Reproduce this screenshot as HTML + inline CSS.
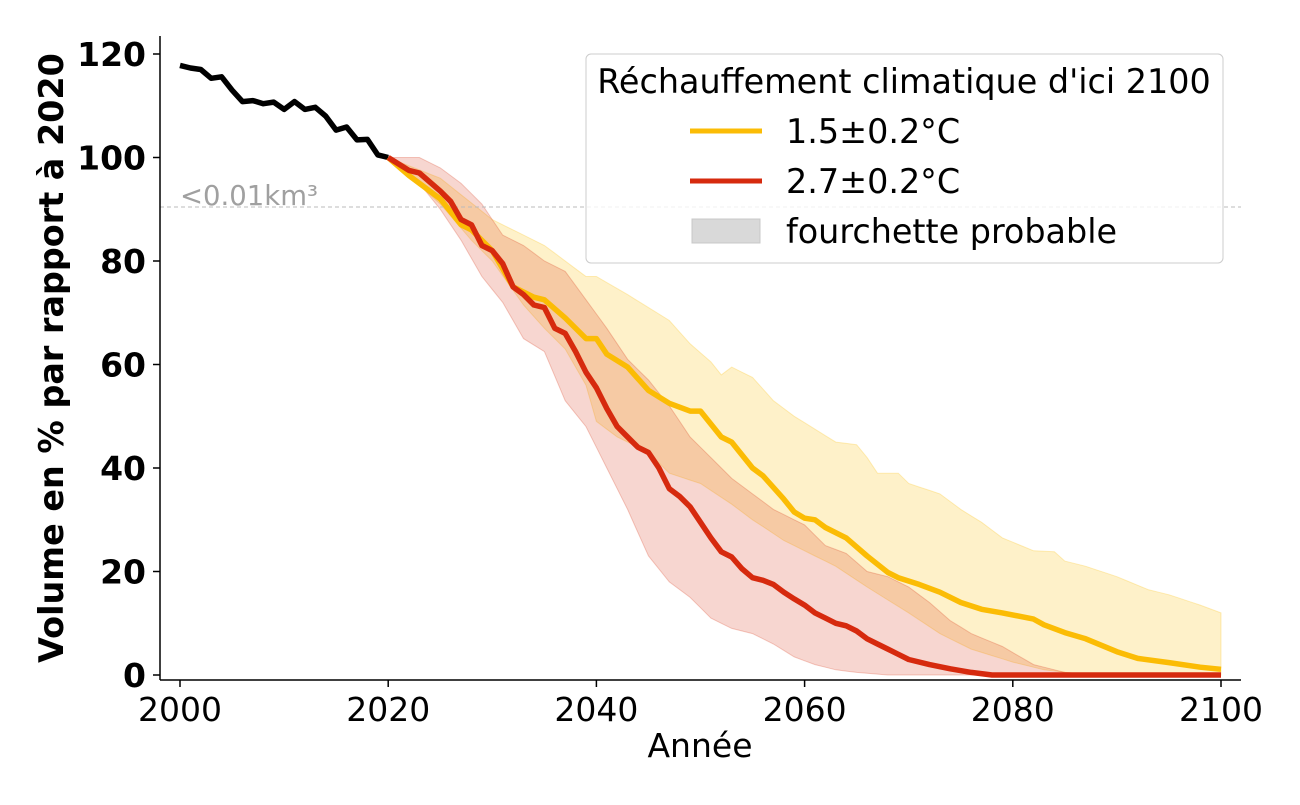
<!DOCTYPE html>
<html><head><meta charset="utf-8"><style>
body{margin:0;background:#fff}
svg text{font-family:"DejaVu Sans","Liberation Sans",sans-serif}
</style></head><body>
<svg id="s" width="1300" height="800" xmlns="http://www.w3.org/2000/svg">
<g id="bands"></g>
<line x1="160" y1="207" x2="1241" y2="207" stroke="#bbb" stroke-width="1" stroke-dasharray="4,3"/>
<text x="180" y="205" font-size="27.5" fill="#a0a0a0">&lt;0.01km³</text>
<g id="lines"></g>
<line x1="160" y1="36" x2="160" y2="680" stroke="#000" stroke-width="1.5"/>
<line x1="160" y1="680" x2="1241" y2="680" stroke="#000" stroke-width="1.5"/>
<g id="ticks" font-size="33"></g>
<text x="700" y="757" font-size="33" text-anchor="middle">Année</text>
<text transform="translate(63,358) rotate(-90)" font-size="33.4" font-weight="bold" text-anchor="middle">Volume en % par rapport à 2020</text>
<rect x="586" y="54" width="637" height="209" rx="5" fill="#fff" fill-opacity="0.8" stroke="#ccc"/>
<text x="904" y="93" font-size="33.4" text-anchor="middle">Réchauffement climatique d'ici 2100</text>
<line x1="690" y1="131" x2="762" y2="131" stroke="#fbbc05" stroke-width="5"/>
<text x="786" y="143" font-size="33.4">1.5±0.2°C</text>
<line x1="690" y1="181" x2="762" y2="181" stroke="#d62a0e" stroke-width="5"/>
<text x="786" y="193" font-size="33.4">2.7±0.2°C</text>
<rect x="692" y="219" width="68" height="24" fill="#d9d9d9" stroke="#c8c8c8"/>
<text x="786" y="243" font-size="33.4">fourchette probable</text>
</svg>
<script>
const X=y=>180+(y-2000)*10.41, Y=v=>675-v*5.175;
function interp(pts){const o=[];for(let i=0;i<pts.length-1;i++){const[a,va]=pts[i],[b,vb]=pts[i+1];for(let y=a;y<b;y++)o.push([y,va+(vb-va)*(y-a)/(b-a)]);}o.push(pts[pts.length-1]);return o;}
function pl(pts){return pts.map((p,i)=>(i?'L':'M')+X(p[0]).toFixed(1)+','+Y(p[1]).toFixed(1)).join('');}
const yl=[[2020,100],[2022,96.5],[2025,92],[2027,87],[2028,86],[2030,82],[2032,75],[2034,73],[2035,72.5],[2037,69],[2039,65],[2040,65],[2041,62],[2043,59.5],[2045,55],[2047,52.5],[2049,51],[2050,51],[2052,46],[2053,45],[2055,40],[2056,38.5],[2058,34],[2059,31.5],[2060,30.3],[2061,30],[2062,28.5],[2064,26.5],[2066,23],[2068,19.8],[2069,18.8],[2071,17.5],[2073,16],[2075,14],[2077,12.7],[2079,12],[2082,10.8],[2083,9.7],[2085,8.2],[2087,7],[2090,4.5],[2092,3.2],[2095,2.4],[2098,1.5],[2100,1.1]];
const rd=[[2020,100],[2022,97.5],[2023,97],[2025,93.5],[2026,91.5],[2027,88],[2028,87],[2029,83],[2030,82],[2031,79.5],[2032,75],[2033,73.5],[2034,71.5],[2035,71],[2036,67],[2037,66],[2038,62.5],[2039,58.5],[2040,55.5],[2041,51.5],[2042,48],[2043,46],[2044,44],[2045,43],[2046,40],[2047,36],[2048,34.5],[2049,32.5],[2050,29.5],[2051,26.5],[2052,23.8],[2053,22.8],[2054,20.5],[2055,18.8],[2056,18.3],[2057,17.5],[2058,16],[2059,14.7],[2060,13.5],[2061,12],[2062,11],[2063,10],[2064,9.5],[2065,8.5],[2066,7],[2067,6],[2068,5],[2069,4],[2070,3],[2072,2],[2074,1.2],[2076,0.5],[2078,0],[2100,0]];
const yu=[[2020,100],[2025,96],[2030,88],[2032,86],[2035,83],[2037,80],[2039,77],[2040,77],[2043,73.5],[2045,71],[2047,68.5],[2049,64],[2051,60.5],[2052,58],[2053,59.5],[2055,57.5],[2057,53],[2059,50],[2061,47.5],[2063,45],[2065,44.5],[2066,42],[2067,39],[2069,39],[2070,37],[2073,35],[2075,32],[2077,29.5],[2079,26.5],[2082,24],[2084,23.8],[2085,22],[2087,21],[2090,19],[2093,16.5],[2095,15.5],[2098,13.5],[2100,12]];
const ylo=[[2020,100],[2025,91],[2028,84],[2030,80],[2033,71.5],[2035,67],[2037,63],[2039,56],[2040,49],[2042,46],[2045,43],[2047,39],[2050,37],[2053,33],[2055,30],[2058,26],[2060,24],[2063,21],[2066,17],[2070,12],[2073,8],[2076,5],[2080,2.5],[2083,1],[2086,0.3],[2090,0],[2100,0]];
const ru=[[2020,100],[2023,100],[2025,98],[2027,95],[2029,91],[2031,85],[2033,83],[2035,80],[2037,78],[2039,72.5],[2041,67],[2043,61],[2045,57],[2047,52],[2049,46],[2051,42],[2053,38],[2055,35],[2057,32],[2060,29],[2062,25],[2064,23.5],[2066,20],[2068,19],[2070,17],[2072,14],[2074,10.5],[2076,8],[2079,5.5],[2082,2],[2085,0.5],[2088,0],[2100,0]];
const rlo=[[2020,100],[2023,95],[2025,90],[2027,84],[2029,77],[2031,72],[2033,65],[2035,62.5],[2037,53],[2039,48],[2041,40],[2043,32],[2045,23],[2047,18],[2049,15],[2051,11],[2053,9],[2055,8],[2057,6],[2059,3.5],[2061,2],[2063,1],[2065,0.5],[2068,0],[2100,0]];
const bk=[[2000,117.8],[2001,117.3],[2002,117],[2003,115.3],[2004,115.6],[2005,113],[2006,110.8],[2007,111],[2008,110.4],[2009,110.7],[2010,109.3],[2011,110.8],[2012,109.3],[2013,109.7],[2014,108],[2015,105.3],[2016,105.9],[2017,103.4],[2018,103.5],[2019,100.5],[2020,100]];
function band(u,l,fill,stroke){return `<path d="${pl(interp(u))}${pl(interp(l).reverse()).replace('M','L')}Z" fill="${fill}" stroke="${stroke}" stroke-width="1"/>`;}
document.getElementById('bands').innerHTML=band(yu,ylo,'rgba(253,200,40,0.25)','rgba(253,200,40,0.3)')+band(ru,rlo,'rgba(214,50,20,0.2)','rgba(214,50,20,0.25)');
const ln=(p,c)=>`<path d="${pl(p)}" fill="none" stroke="${c}" stroke-width="5.5" stroke-linejoin="round"/>`;
document.getElementById('lines').innerHTML=ln(bk,'#000')+ln(yl,'#fbbc05')+ln(rd,'#d62a0e');
let t='';
for(let v=0;v<=120;v+=20){const y=Y(v);t+=`<line x1="153" y1="${y}" x2="160" y2="${y}" stroke="#000" stroke-width="1.5"/><text x="146" y="${y+12}" text-anchor="end" font-weight="bold">${v}</text>`;}
for(let yr=2000;yr<=2100;yr+=20){const x=X(yr);t+=`<line x1="${x}" y1="680" x2="${x}" y2="687" stroke="#000" stroke-width="1.5"/><text x="${x}" y="721" text-anchor="middle">${yr}</text>`;}
document.getElementById('ticks').innerHTML=t;
</script>
</body></html>
